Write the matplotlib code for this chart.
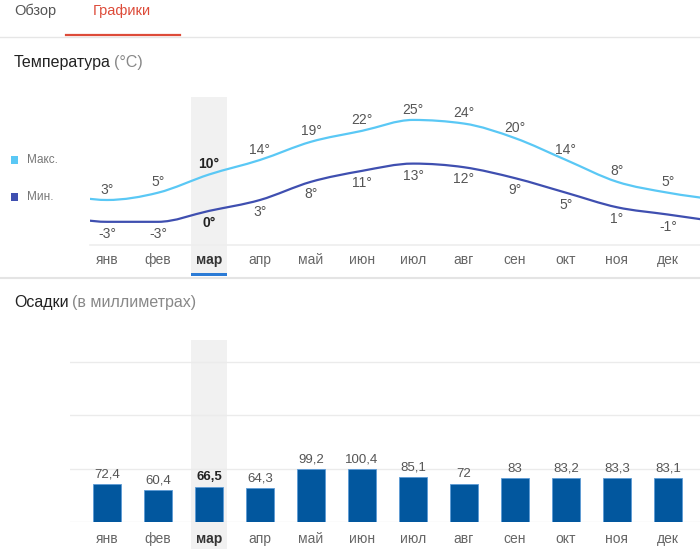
import matplotlib
matplotlib.use("Agg")
import matplotlib.pyplot as plt
import matplotlib.transforms as mtransforms
from matplotlib.patches import Rectangle, PathPatch
from matplotlib.path import Path
from matplotlib.lines import Line2D
import numpy as np

plt.rcParams['font.family'] = ['Liberation Sans', 'DejaVu Sans']

months = ["янв", "фев", "мар", "апр", "май", "июн", "июл", "авг", "сен", "окт", "ноя", "дек"]
t_max = [3, 5, 10, 14, 19, 22, 25, 24, 20, 14, 8, 5]
t_min = [-3, -3, 0, 3, 8, 11, 13, 12, 9, 5, 1, -1]
precip = [72.4, 60.4, 66.5, 64.3, 99.2, 100.4, 85.1, 72, 83, 83.2, 83.3, 83.1]
selected = 2

W, H = 700, 549
fig = plt.figure(figsize=(W / 100, H / 100), dpi=100)
fig.patch.set_facecolor("white")

def fx(px):
    return px / W

def fy(py):
    return 1 - py / H

C_MAX = "#5ac8f5"
C_MIN = "#3f4fb0"
C_BAR = "#02579e"
C_TXT = "#555555"
C_BAND = "#f1f1f1"


def monotone_path(xs, ys):
    """Monotone cubic (d3 curveMonotoneX style) Bezier path through data points."""
    xs = np.asarray(xs, float)
    ys = np.asarray(ys, float)
    n = len(xs)
    h = np.diff(xs)
    s = np.diff(ys) / h
    t = np.zeros(n)
    for i in range(1, n - 1):
        h0, h1 = h[i - 1], h[i]
        s0, s1 = s[i - 1], s[i]
        p = (s0 * h1 + s1 * h0) / (h0 + h1)
        t[i] = (np.sign(s0) + np.sign(s1)) * min(abs(s0), abs(s1), 0.5 * abs(p))
    t[0] = (3 * s[0] - t[1]) / 2
    t[-1] = (3 * s[-1] - t[-2]) / 2
    verts = [(xs[0], ys[0])]
    codes = [Path.MOVETO]
    for i in range(n - 1):
        dx = (xs[i + 1] - xs[i]) / 3
        verts += [(xs[i] + dx, ys[i] + dx * t[i]),
                  (xs[i + 1] - dx, ys[i + 1] - dx * t[i + 1]),
                  (xs[i + 1], ys[i + 1])]
        codes += [Path.CURVE4] * 3
    return Path(verts, codes)


# ---- tabs ----
fig.text(fx(14), fy(11), "Обзор", fontsize=10.5, color="#555555", va="center", ha="left")
fig.text(fx(93), fy(11), "Графики", fontsize=10.5, color="#dd4b39", va="center", ha="left")
fig.add_artist(Line2D([0, 1], [fy(36.5), fy(36.5)], color="#e6e6e6", lw=1))
fig.add_artist(Line2D([fx(66), fx(180)], [fy(35), fy(35)], color="#dd4b39", lw=1.6))

# ---- temperature title ----
t1 = fig.text(fx(14), fy(63), "Температура", fontsize=11.5, color="#222222", va="center", ha="left")
fig.canvas.draw()
bb = t1.get_window_extent()
fig.text((bb.x1 + 3) / W, fy(63), "(°C)", fontsize=11.5, color="#888888", va="center", ha="left")

# ---- legend ----
for yc, col, lab in [(160, C_MAX, "Макс."), (197, C_MIN, "Мин.")]:
    fig.add_artist(Rectangle((fx(10.5), fy(yc + 3.5)), 7 / W, 7 / H, facecolor=col,
                             edgecolor="none", transform=fig.transFigure))
    fig.text(fx(27), fy(yc), lab, fontsize=8.5, color="#777777", va="center", ha="left")

x = np.arange(len(months))

# ---- temperature axes ----
ax1 = fig.add_axes([fx(90), fy(245), (700 - 90) / W, 148 / H])
x_lo1 = (90 - 107) / 51
x_hi1 = (700 - 107) / 51
ax1.set_xlim(x_lo1, x_hi1)
ax1.set_ylim(-9.37, 31.3)
for s in ["top", "left", "right"]:
    ax1.spines[s].set_visible(False)
ax1.spines["bottom"].set_color("#eeeeee")
ax1.spines["bottom"].set_linewidth(1.2)
ax1.set_yticks([])
ax1.set_xticks(x)
ax1.set_xticklabels(months, fontsize=10, color="#666666")
ax1.tick_params(axis="x", length=0, pad=6)
ax1.patch.set_alpha(0)

trans1 = mtransforms.blended_transform_factory(ax1.transData, ax1.transAxes)
ax1.add_patch(Rectangle((selected - 0.36, -0.2), 0.72, 1.2, transform=trans1,
                        facecolor=C_BAND, edgecolor="none", clip_on=False, zorder=0))
ax1.add_patch(Rectangle((selected - 0.36, -0.21), 0.72, 0.022, transform=trans1,
                        facecolor="#2b7bd6", edgecolor="none", clip_on=False, zorder=1))

# cyclic wrap: previous December / next January continue the curves past the edges
xw = np.r_[-1, x, len(months)]
for vals, col in [(t_max, C_MAX), (t_min, C_MIN)]:
    yw = np.r_[vals[-1], vals, vals[0]]
    ax1.add_patch(PathPatch(monotone_path(xw, yw), facecolor="none", edgecolor=col,
                            lw=1.6, zorder=3, capstyle="round", joinstyle="round"))

for i in range(len(months)):
    bold = i == selected
    ax1.annotate(f"{t_max[i]}°", (x[i], t_max[i]), xytext=(0, 7.5), textcoords="offset points",
                 ha="center", va="center", fontsize=10,
                 color="#222222" if bold else C_TXT, fontweight="bold" if bold else "normal")
    ax1.annotate(f"{t_min[i]}°", (x[i], t_min[i]), xytext=(0, -8.8), textcoords="offset points",
                 ha="center", va="center", fontsize=10,
                 color="#222222" if bold else C_TXT, fontweight="bold" if bold else "normal")

lab = ax1.get_xticklabels()[selected]
lab.set_fontweight("bold")
lab.set_color("#333333")

# separator
fig.add_artist(Line2D([0, 1], [fy(277.5), fy(277.5)], color="#e4e4e4", lw=1.5))

# ---- precipitation title ----
t2 = fig.text(fx(14), fy(303), "Осадки", fontsize=11.5, color="#222222", va="center", ha="left")
fig.canvas.draw()
bb = t2.get_window_extent()
fig.text((bb.x1 + 3) / W, fy(303), "(в миллиметрах)", fontsize=11.5, color="#888888",
         va="center", ha="left")

# ---- precipitation axes ----
ymax2 = 305
pxmm = 53.4 / 100
ax2 = fig.add_axes([fx(70), fy(522.3), (700 - 70) / W, ymax2 * pxmm / H])
x_lo2 = (70 - 107) / 51
ax2.set_xlim(x_lo2, x_hi1)
ax2.set_ylim(0, ymax2)
for s in ["top", "left", "right", "bottom"]:
    ax2.spines[s].set_visible(False)
ax2.set_yticks([0, 100, 200, 300])
ax2.set_yticklabels([])
ax2.tick_params(axis="y", length=0)
ax2.grid(axis="y", color="#ebebeb", lw=1)
ax2.set_axisbelow(True)
ax2.set_xticks(x)
ax2.set_xticklabels(months, fontsize=10, color="#666666")
ax2.tick_params(axis="x", length=0, pad=7)
ax2.patch.set_alpha(0)

trans2 = mtransforms.blended_transform_factory(ax2.transData, ax2.transAxes)
hgt = ymax2 * pxmm
ax2.add_patch(Rectangle((selected - 0.36, -(549 - 522.3) / hgt), 0.72,
                        (549 - 340) / hgt, transform=trans2,
                        facecolor=C_BAND, edgecolor="none", clip_on=False, zorder=0))

ax2.bar(x, precip, width=0.54, color=C_BAR, edgecolor="#5d9bd6", linewidth=0.6, zorder=3)
for i, v in enumerate(precip):
    bold = i == selected
    s = (f"{v:g}").replace(".", ",")
    ax2.annotate(s, (x[i], v), xytext=(0, 2.5), textcoords="offset points",
                 ha="center", va="bottom", fontsize=9.5,
                 color="#222222" if bold else C_TXT, fontweight="bold" if bold else "normal")

lab = ax2.get_xticklabels()[selected]
lab.set_fontweight("bold")
lab.set_color("#333333")

fig.savefig("out.png", dpi=100, facecolor="white")
